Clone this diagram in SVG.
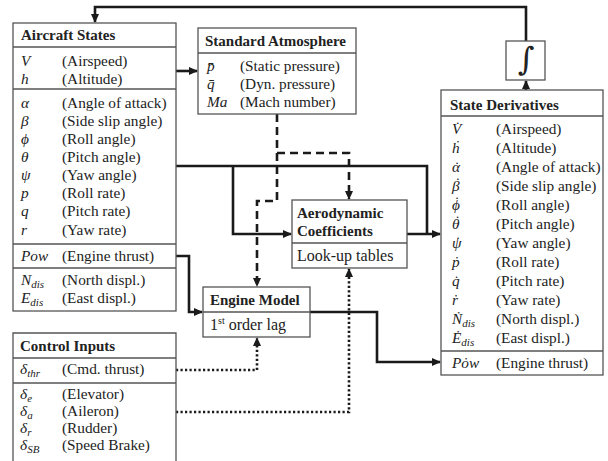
<svg xmlns="http://www.w3.org/2000/svg" width="608" height="461" viewBox="0 0 608 461">
<defs>
<marker id="ah" markerUnits="userSpaceOnUse" markerWidth="9" markerHeight="8" refX="8" refY="4" orient="auto">
<path d="M0,0 L9,4 L0,8 Z" fill="#1a1a1a"/>
</marker>
<style>
.box{fill:#fff;stroke:#555;stroke-width:1.3}
.sep{stroke:#555;stroke-width:1.3;fill:none}
.t{font-family:"Liberation Serif","Times New Roman",serif;font-size:15.3px;fill:#222}
.t2{font-family:"Liberation Serif","Times New Roman",serif;font-size:16px;fill:#222}
.h{font-family:"Liberation Serif","Times New Roman",serif;font-size:15px;font-weight:bold;fill:#222}
.m{font-family:"Liberation Serif","Times New Roman",serif;font-size:15.3px;font-style:italic;fill:#222}
.dt{font-style:normal}
.sub{font-size:11px}
.c{fill:none;stroke:#1a1a1a;stroke-width:2.6}
.d{fill:none;stroke:#1a1a1a;stroke-width:2.6;stroke-dasharray:8,5}
.o{fill:none;stroke:#1a1a1a;stroke-width:2.6;stroke-dasharray:2.2,2.3}
</style>
</defs>
<rect width="608" height="461" fill="#fff"/>

<g id="connectors">
<path class="c" d="M526,41 V7 H95 V22" marker-end="url(#ah)"/>
<path class="c" d="M526,90 V81" marker-end="url(#ah)"/>
<path class="c" d="M176,71 H197" marker-end="url(#ah)"/>
<path class="c" d="M176,166 H427 V234"/>
<path class="c" d="M233,166 V234 H291" marker-end="url(#ah)"/>
<path class="c" d="M407,234 H440" marker-end="url(#ah)"/>
<path class="c" d="M176,256 H189 V312 H202" marker-end="url(#ah)"/>
<path class="c" d="M310,312 H377 V362 H440" marker-end="url(#ah)"/>
<path class="d" d="M277,114 V201 H257 V286" marker-end="url(#ah)"/>
<path class="d" d="M277,153 H349 V199" marker-end="url(#ah)"/>
<path class="o" d="M176,370 H257 V338" marker-end="url(#ah)"/>
<path class="o" d="M176,412 H349 V269" marker-end="url(#ah)"/>
</g>

<g id="aircraft-states">
<rect class="box" x="13" y="23" width="163" height="288"/>
<path class="sep" d="M13,47 H176 M13,89 H176 M13,244 H176 M13,268 H176"/>
<text class="h" x="21" y="40">Aircraft States</text>
<text class="m" x="21" y="66">V</text><text class="t" x="62" y="66">(Airspeed)</text>
<text class="m" x="21" y="84">h</text><text class="t" x="62" y="84">(Altitude)</text>
<text class="m" x="21" y="108">α</text><text class="t" x="62" y="108">(Angle of attack)</text>
<text class="m" x="21" y="126">β</text><text class="t" x="62" y="126">(Side slip angle)</text>
<text class="m" x="21" y="144">ϕ</text><text class="t" x="62" y="144">(Roll angle)</text>
<text class="m" x="21" y="162">θ</text><text class="t" x="62" y="162">(Pitch angle)</text>
<text class="m" x="21" y="180">ψ</text><text class="t" x="62" y="180">(Yaw angle)</text>
<text class="m" x="21" y="198">p</text><text class="t" x="62" y="198">(Roll rate)</text>
<text class="m" x="21" y="216">q</text><text class="t" x="62" y="216">(Pitch rate)</text>
<text class="m" x="21" y="235">r</text><text class="t" x="62" y="235">(Yaw rate)</text>
<text class="m" x="21" y="261">Pow</text><text class="t" x="62" y="261">(Engine thrust)</text>
<text class="m" x="21" y="285">N<tspan class="sub" dy="3">dis</tspan></text><text class="t" x="62" y="285">(North displ.)</text>
<text class="m" x="21" y="303">E<tspan class="sub" dy="3">dis</tspan></text><text class="t" x="62" y="303">(East displ.)</text>
</g>

<g id="control-inputs">
<path class="box" d="M13,461 V333 H176 V461"/>
<path class="sep" d="M13,358 H176 M13,383 H176"/>
<text class="h" x="20" y="351">Control Inputs</text>
<text class="m" x="20" y="374">δ<tspan class="sub" dy="3">thr</tspan></text><text class="t" x="62" y="374">(Cmd. thrust)</text>
<text class="m" x="20" y="399">δ<tspan class="sub" dy="3">e</tspan></text><text class="t" x="62" y="399">(Elevator)</text>
<text class="m" x="20" y="416">δ<tspan class="sub" dy="3">a</tspan></text><text class="t" x="62" y="416">(Aileron)</text>
<text class="m" x="20" y="433">δ<tspan class="sub" dy="3">r</tspan></text><text class="t" x="62" y="433">(Rudder)</text>
<text class="m" x="20" y="450">δ<tspan class="sub" dy="3">SB</tspan></text><text class="t" x="62" y="450">(Speed Brake)</text>
</g>

<g id="standard-atmosphere">
<rect class="box" x="198" y="28" width="158" height="86"/>
<path class="sep" d="M198,53 H356"/>
<text class="h" x="205" y="46">Standard Atmosphere</text>
<text class="m" x="207" y="71">p̄</text><text class="t" x="240" y="71">(Static pressure)</text>
<text class="m" x="207" y="89">q̄</text><text class="t" x="240" y="89">(Dyn. pressure)</text>
<text class="m" x="207" y="107">Ma</text><text class="t" x="240" y="107">(Mach number)</text>
</g>

<g id="aerodynamic-coefficients">
<rect class="box" x="292" y="200" width="115" height="68"/>
<path class="sep" d="M292,243 H407"/>
<text class="h" x="297" y="218">Aerodynamic</text>
<text class="h" x="297" y="236">Coefficients</text>
<text class="t2" x="297" y="261">Look-up tables</text>
</g>

<g id="engine-model">
<rect class="box" x="203" y="287" width="107" height="50"/>
<path class="sep" d="M203,312 H310"/>
<text class="h" x="210" y="305">Engine Model</text>
<text class="t2" x="210" y="330">1<tspan font-size="10" dy="-6">st</tspan><tspan dy="6"> order lag</tspan></text>
</g>

<g id="integrator">
<rect class="box" x="506" y="41" width="39" height="39"/>
<text x="526" y="70" font-family="'DejaVu Serif',serif" font-size="32" fill="#222" text-anchor="middle">∫</text>
</g>

<g id="state-derivatives">
<rect class="box" x="441" y="90" width="162" height="285"/>
<path class="sep" d="M441,116 H603 M441,351 H603"/>
<text class="h" x="450" y="110">State Derivatives</text>
<text class="m" x="452" y="134">V̇</text><text class="t" x="496" y="134">(Airspeed)</text>
<text class="m" x="452" y="153">ḣ</text><text class="t" x="496" y="153">(Altitude)</text>
<text class="m" x="452" y="172">α<tspan class="dt" dx="-5.5">˙</tspan></text><text class="t" x="496" y="172">(Angle of attack)</text>
<text class="m" x="452" y="191">β<tspan class="dt" dx="-4.5" dy="-3">˙</tspan></text><text class="t" x="496" y="191">(Side slip angle)</text>
<text class="m" x="452" y="210">ϕ<tspan class="dt" dx="-5.5" dy="-3">˙</tspan></text><text class="t" x="496" y="210">(Roll angle)</text>
<text class="m" x="452" y="229">θ<tspan class="dt" dx="-4.5" dy="-3">˙</tspan></text><text class="t" x="496" y="229">(Pitch angle)</text>
<text class="m" x="452" y="248">ψ<tspan class="dt" dx="-6" dy="-1">˙</tspan></text><text class="t" x="496" y="248">(Yaw angle)</text>
<text class="m" x="452" y="267">ṗ</text><text class="t" x="496" y="267">(Roll rate)</text>
<text class="m" x="452" y="286">q̇</text><text class="t" x="496" y="286">(Pitch rate)</text>
<text class="m" x="452" y="305">ṙ</text><text class="t" x="496" y="305">(Yaw rate)</text>
<text class="m" x="452" y="324">Ṅ<tspan class="sub" dy="3">dis</tspan></text><text class="t" x="496" y="324">(North displ.)</text>
<text class="m" x="452" y="343">Ė<tspan class="sub" dy="3">dis</tspan></text><text class="t" x="496" y="343">(East displ.)</text>
<text class="m" x="452" y="368">Pȯw</text><text class="t" x="496" y="368">(Engine thrust)</text>
</g>
</svg>
